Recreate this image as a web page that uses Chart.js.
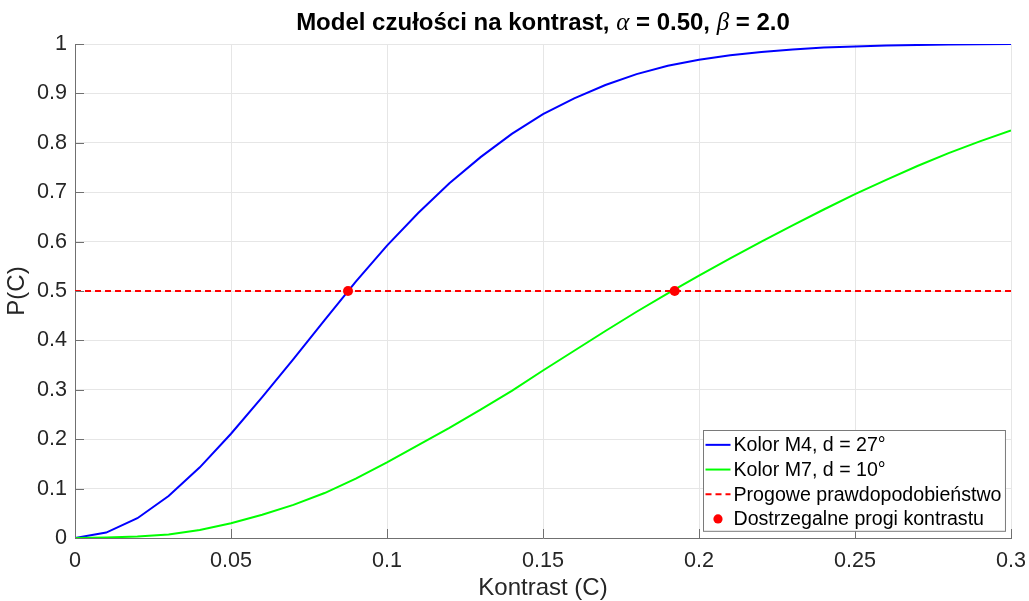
<!DOCTYPE html>
<html lang="pl">
<head>
<meta charset="utf-8">
<title>Model czułości na kontrast</title>
<script src="https://cdn.jsdelivr.net/npm/chart.js@4.4.1/dist/chart.umd.min.js"></script>
<style>
  html, body { margin: 0; padding: 0; background: #fff; }
  #wrap { width: 1029px; height: 601px; }
</style>
</head>
<body>
<div id="wrap"><canvas id="chart" width="1029" height="601"></canvas></div>
<script>
// ─────────────────────────────────────────────
// Dane: krzywe psychometryczne P(C)
// ─────────────────────────────────────────────
const contrast = [
  0.00, 0.01, 0.02, 0.03, 0.04, 0.05, 0.06, 0.07, 0.08, 0.09,
  0.10, 0.11, 0.12, 0.13, 0.14, 0.15, 0.16, 0.17, 0.18, 0.19,
  0.20, 0.21, 0.22, 0.23, 0.24, 0.25, 0.26, 0.27, 0.28, 0.29, 0.30,
];

const probM4 = [
  0.000, 0.011, 0.040, 0.085, 0.143, 0.211, 0.285, 0.362, 0.441, 0.519,
  0.592, 0.658, 0.718, 0.771, 0.818, 0.858, 0.890, 0.917, 0.939, 0.956,
  0.968, 0.977, 0.984, 0.989, 0.993, 0.995, 0.997, 0.998, 0.999, 0.9995, 1.000,
];

const probM7 = [
  0.000, 0.001, 0.003, 0.007, 0.016, 0.030, 0.047, 0.067, 0.091, 0.120,
  0.153, 0.188, 0.223, 0.260, 0.298, 0.339, 0.379, 0.419, 0.458, 0.495,
  0.531, 0.566, 0.600, 0.633, 0.665, 0.696, 0.725, 0.753, 0.779, 0.803, 0.825,
];

const thresholdLevel    = 0.5;
const thresholdContrast = [0.0875, 0.1922];

const seriesLabels = [
  'Kolor M4, d = 27°',
  'Kolor M7, d = 10°',
  'Progowe prawdopodobieństwo',
  'Dostrzegalne progi kontrastu',
];

const xTickValues = [0, 0.05, 0.1, 0.15, 0.2, 0.25, 0.3];
const xTickLabels = ['0', '0.05', '0.1', '0.15', '0.2', '0.25', '0.3'];
const yTickValues = [0, 0.1, 0.2, 0.3, 0.4, 0.5, 0.6, 0.7, 0.8, 0.9, 1];
const yTickLabels = ['0', '0.1', '0.2', '0.3', '0.4', '0.5', '0.6', '0.7', '0.8', '0.9', '1'];

// ─────────────────────────────────────────────
// Style
// ─────────────────────────────────────────────
const FONT      = '"Liberation Sans", Arial, Helvetica, sans-serif';
const FONT_TEX  = '"Liberation Serif", "Times New Roman", serif';
const AXIS_CLR  = '#707070';
const TEXT_CLR  = '#262626';
const GRID_CLR  = '#e6e6e6';

const toPoints = (xs, ys) => xs.map((x, i) => ({ x, y: ys[i] }));

// ─────────────────────────────────────────────
// Pluginy: tytuł z greckimi literami, ticki do środka, legenda w rogu
// ─────────────────────────────────────────────
const titlePlugin = {
  id: 'texTitle',
  afterDraw(chart) {
    const { ctx, chartArea } = chart;
    const parts = [
      { t: 'Model czułości na kontrast, ', f: `bold 24px ${FONT}` },
      { t: 'α', f: `italic 25px ${FONT_TEX}` },
      { t: ' = 0.50, ', f: `bold 24px ${FONT}` },
      { t: 'β', f: `italic 25px ${FONT_TEX}` },
      { t: ' = 2.0', f: `bold 24px ${FONT}` },
    ];
    ctx.save();
    ctx.fillStyle = '#000';
    ctx.textBaseline = 'alphabetic';
    let total = 0;
    parts.forEach((p) => { ctx.font = p.f; p.w = ctx.measureText(p.t).width; total += p.w; });
    let x = (chartArea.left + chartArea.right) / 2 - total / 2;
    parts.forEach((p) => { ctx.font = p.f; ctx.fillText(p.t, x, 30); x += p.w; });
    ctx.restore();
  },
};

const innerTicksPlugin = {
  id: 'innerTicks',
  afterDatasetsDraw(chart) {
    const { ctx, chartArea, scales } = chart;
    const len = 9;
    ctx.save();
    ctx.strokeStyle = AXIS_CLR;
    ctx.lineWidth = 1;
    ctx.beginPath();
    xTickValues.forEach((v) => {
      const px = Math.round(scales.x.getPixelForValue(v)) + 0.5;
      ctx.moveTo(px, chartArea.bottom);
      ctx.lineTo(px, chartArea.bottom - len);
    });
    yTickValues.forEach((v) => {
      const py = Math.round(scales.y.getPixelForValue(v)) + 0.5;
      ctx.moveTo(chartArea.left, py);
      ctx.lineTo(chartArea.left + len, py);
    });
    ctx.stroke();
    ctx.restore();
  },
};

const boxLegendPlugin = {
  id: 'boxLegend',
  afterDraw(chart) {
    const { ctx, chartArea } = chart;
    const sets = chart.data.datasets;
    const rowH = 24.7;
    const sample = 25;
    ctx.save();
    ctx.font = `19.6px ${FONT}`;
    const textW = Math.max(...sets.map((d) => ctx.measureText(d.label).width));
    const w = 2 + sample + 3 + textW + 4;
    const h = rowH * sets.length + 2;
    const x0 = Math.round(chartArea.right - 6 - w) + 0.5;
    const y0 = Math.round(chartArea.bottom - 7 - h) + 0.5;

    ctx.fillStyle = '#fff';
    ctx.fillRect(x0, y0, w, h);
    ctx.strokeStyle = '#7a7a7a';
    ctx.lineWidth = 1;
    ctx.strokeRect(x0, y0, w, h);

    sets.forEach((d, i) => {
      const cy = y0 + 1 + rowH * (i + 0.5) + 1;
      const sx = x0 + 2;
      if (d.showLine === false) {
        ctx.fillStyle = d.pointBackgroundColor;
        ctx.beginPath();
        ctx.arc(sx + sample / 2, cy, 4.6, 0, Math.PI * 2);
        ctx.fill();
      } else {
        ctx.strokeStyle = d.borderColor;
        ctx.lineWidth = d.borderWidth;
        ctx.setLineDash(d.borderDash || []);
        ctx.beginPath();
        ctx.moveTo(sx, cy);
        ctx.lineTo(sx + sample, cy);
        ctx.stroke();
        ctx.setLineDash([]);
      }
      ctx.fillStyle = '#000';
      ctx.textBaseline = 'middle';
      ctx.fillText(d.label, sx + sample + 3, cy + 1);
    });
    ctx.restore();
  },
};

// ─────────────────────────────────────────────
// Wykres
// ─────────────────────────────────────────────
const ctx = document.getElementById('chart').getContext('2d');

new Chart(ctx, {
  type: 'line',
  data: {
    datasets: [
      {
        label: seriesLabels[0],
        data: toPoints(contrast, probM4),
        borderColor: '#0000ff',
        borderWidth: 2,
        pointRadius: 0,
        tension: 0,
        order: 3,
      },
      {
        label: seriesLabels[1],
        data: toPoints(contrast, probM7),
        borderColor: '#00ff00',
        borderWidth: 2,
        pointRadius: 0,
        tension: 0,
        order: 2,
      },
      {
        label: seriesLabels[2],
        data: [
          { x: contrast[0], y: thresholdLevel },
          { x: contrast[contrast.length - 1], y: thresholdLevel },
        ],
        borderColor: '#ff0000',
        borderWidth: 2,
        borderDash: [6, 4],
        pointRadius: 0,
        order: 1,
      },
      {
        label: seriesLabels[3],
        data: thresholdContrast.map((c) => ({ x: c, y: thresholdLevel })),
        showLine: false,
        pointRadius: 5,
        pointBackgroundColor: '#ff0000',
        pointBorderWidth: 0,
        order: 0,
      },
    ],
  },
  options: {
    responsive: false,
    animation: false,
    events: [],
    layout: { padding: { left: 0, top: 44, right: 18, bottom: 0 } },
    plugins: {
      legend: { display: false },
      title: { display: false },
      tooltip: { enabled: false },
    },
    scales: {
      x: {
        type: 'linear',
        min: 0,
        max: 0.3,
        afterBuildTicks: (scale) => { scale.ticks = xTickValues.map((value) => ({ value })); },
        afterFit: (scale) => {
          scale.height = 63;
          scale.paddingLeft = 0;
          scale.paddingRight = 0;
        },
        ticks: {
          callback: (v, i) => xTickLabels[i],
          color: TEXT_CLR,
          font: { family: FONT, size: 21.6 },
          padding: 10,
          maxRotation: 0,
        },
        grid: { color: GRID_CLR, drawTicks: false },
        border: { display: true, color: AXIS_CLR, width: 1 },
        title: {
          display: true,
          text: 'Kontrast (C)',
          color: TEXT_CLR,
          font: { family: FONT, size: 24 },
          padding: { top: 0, bottom: -2 },
        },
      },
      y: {
        type: 'linear',
        min: 0,
        max: 1,
        afterBuildTicks: (scale) => { scale.ticks = yTickValues.map((value) => ({ value })); },
        afterFit: (scale) => {
          scale.width = 75;
          scale.paddingTop = 0;
          scale.paddingBottom = 0;
        },
        ticks: {
          callback: (v, i) => yTickLabels[i],
          color: TEXT_CLR,
          font: { family: FONT, size: 21.6 },
          padding: 8,
        },
        grid: { color: GRID_CLR, drawTicks: false },
        border: { display: true, color: AXIS_CLR, width: 1 },
        title: {
          display: true,
          text: 'P(C)',
          color: TEXT_CLR,
          font: { family: FONT, size: 24 },
          padding: { top: 3, bottom: 0 },
        },
      },
    },
  },
  plugins: [innerTicksPlugin, titlePlugin, boxLegendPlugin],
});
</script>
</body>
</html>
